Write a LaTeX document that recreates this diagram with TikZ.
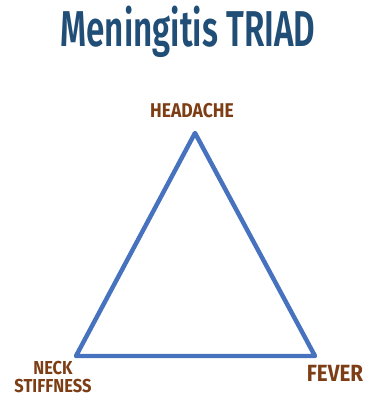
\documentclass[tikz,border=0pt]{standalone}
\usepackage{fontspec}
\setmainfont{Fira Sans}
\newfontfamily\titlefont[FakeStretch=0.66]{Fira Sans SemiBold}
\newfontfamily\labelfont[FakeStretch=0.88]{Fira Sans}
\usetikzlibrary{positioning}
\definecolor{tblue}{RGB}{32,78,118}
\definecolor{lbrown}{RGB}{125,62,22}
\definecolor{sblue}{RGB}{70,114,190}

\begin{document}
\begin{tikzpicture}[x=0.03cm,y=-0.03cm,
  title/.style={font=\titlefont\fontsize{43}{43}\selectfont,text=tblue,inner sep=0pt},
  symp/.style={font=\labelfont\bfseries\fontsize{17}{15}\selectfont,text=lbrown,
               inner sep=0pt,align=center},
  side/.style={sblue,line width=3.8pt,line join=round}
]
\useasboundingbox (0,0) rectangle (372,398);
\node[title] (title) at (188,32) {Meningitis TRIAD};

\coordinate (top)   at (195,133);
\coordinate (left)  at (76,356);
\coordinate (right) at (315,356);
\draw[side] (top) -- (left) -- (right) -- cycle;

\node[symp] (headache) at (192,111) {HEADACHE};
\node[symp,font=\labelfont\bfseries\fontsize{16}{16}\selectfont] (neck) at (53,377) {NECK\\STIFFNESS};
\node[symp,font=\labelfont\bfseries\fontsize{20}{20}\selectfont] (fever) at (335,373) {FEVER};
\end{tikzpicture}
\end{document}
